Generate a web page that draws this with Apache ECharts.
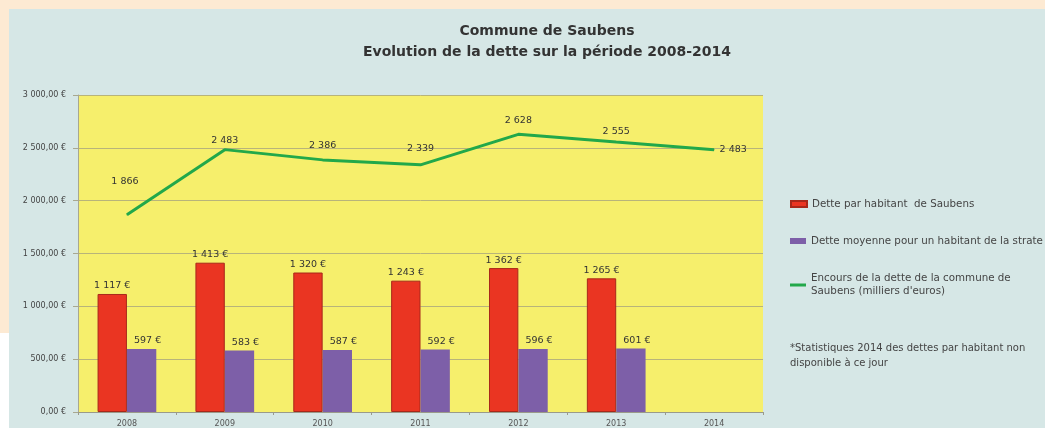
<!DOCTYPE html>
<html>
<head>
<meta charset="utf-8">
<style>
html,body{margin:0;padding:0;background:#ffffff;}
#c{width:1045px;height:428px;}
</style>
<script src="https://cdn.jsdelivr.net/npm/echarts@6/dist/echarts.min.js"></script>
</head>
<body>
<div id="c"></div>
<script>
var years = ['2008','2009','2010','2011','2012','2013','2014'];
var detteHabitant = [1117, 1413, 1320, 1243, 1362, 1265, null];
var detteStrate = [597, 583, 587, 592, 596, 601, null];
var encours = [1866, 2483, 2386, 2339, 2628, 2555, 2483];
var yTicks = [0, 500, 1000, 1500, 2000, 2500, 3000];

var nameRed = 'Dette par habitant  de Saubens';
var namePurple = 'Dette moyenne pour un habitant de la strate';
var nameGreen = "Encours de la dette de la commune de\nSaubens (milliers d'euros)";

function thousands(v){
  return String(Math.round(v)).replace(/\B(?=(\d{3})+(?!\d))/g, '\u00a0');
}

var FONT = '"DejaVu Sans", Verdana, sans-serif';
var lineOffsets = [[-2,-24],[0,0],[0,-5],[0,-7],[0,-4],[0,-1],[0,0]];

var chart = echarts.init(document.getElementById('c'));
chart.setOption({
  backgroundColor: '#D6E7E6',
  animation: false,
  textStyle: {fontFamily: FONT},
  title: {
    text: 'Commune de Saubens\nEvolution de la dette sur la période 2008-2014',
    left: 542, top: 16, textAlign: 'center',
    textStyle: {fontSize: 14, fontWeight: 'bold', color: '#333', lineHeight: 21, fontFamily: FONT}
  },
  grid: {left: 78, right: 282, top: 95, bottom: 15, show: true, backgroundColor: '#F6EF6C', borderWidth: 0},
  xAxis: {
    type: 'category', data: years,
    axisLine: {lineStyle: {color: '#9A9A8A'}},
    axisTick: {show: true, length: 3, lineStyle: {color: '#9A9A8A'}},
    axisLabel: {fontSize: 8, color: '#555', margin: 8, fontFamily: FONT}
  },
  yAxis: {
    type: 'value', min: yTicks[0], max: yTicks[yTicks.length-1], interval: 500,
    axisLine: {show: true, lineStyle: {color: '#A8A890'}},
    axisTick: {show: true, length: 5, lineStyle: {color: '#A8A890'}},
    splitLine: {lineStyle: {color: '#B8B47A', width: 1}},
    axisLabel: {fontSize: 8, color: '#444', margin: 12, fontFamily: FONT,
      formatter: function(v){ return thousands(v) + ',00\u00a0€'; }}
  },
  legend: [
    {orient: 'vertical', left: 790, top: 199, padding: 0, data: [{name: nameRed, icon: 'rect'}],
     itemWidth: 16, itemHeight: 6, itemGap: 5, textStyle: {fontSize: 10.3, color: '#444', fontFamily: FONT}},
    {orient: 'vertical', left: 790, top: 236, padding: 0, data: [{name: namePurple, icon: 'rect'}],
     itemWidth: 16, itemHeight: 6, itemGap: 5, textStyle: {fontSize: 10.3, color: '#444', fontFamily: FONT}},
    {orient: 'vertical', left: 790, top: 272, padding: 0, data: [{name: nameGreen, icon: 'rect'}],
     itemWidth: 16, itemHeight: 3, itemGap: 5, textStyle: {fontSize: 10.3, color: '#444', lineHeight: 13, fontFamily: FONT}}
  ],
  graphic: [
    {type: 'rect', shape: {x: 0, y: 0, width: 1045, height: 9}, style: {fill: '#FDEAD3'}, silent: true},
    {type: 'rect', shape: {x: 0, y: 9, width: 9, height: 324}, style: {fill: '#FDEAD3'}, silent: true},
    {type: 'rect', shape: {x: 0, y: 333, width: 9, height: 95}, style: {fill: '#FFFFFF'}, silent: true},
    {type: 'text', left: 790, top: 341, silent: true,
     style: {text: '*Statistiques 2014 des dettes par habitant non\ndisponible à ce jour', fontSize: 10, fill: '#444', lineHeight: 15, fontFamily: FONT}}
  ],
  series: [
    {name: nameRed, type: 'bar', data: detteHabitant, barGap: '0%', barCategoryGap: '40%',
     itemStyle: {color: '#EA3522', borderColor: '#A8281A', borderWidth: 1},
     label: {show: true, position: 'top', distance: 3, fontSize: 9.5, color: '#333', fontFamily: FONT,
       formatter: function(p){ return thousands(p.value) + '\u00a0€'; }}},
    {name: namePurple, type: 'bar', data: detteStrate,
     itemStyle: {color: '#7D5FA8'},
     label: {show: true, position: 'top', distance: 3, offset: [6, 0], fontSize: 9.5, color: '#333', fontFamily: FONT,
       formatter: function(p){ return thousands(p.value) + '\u00a0€'; }}},
    {name: nameGreen, type: 'line', data: encours.map(function(v, i){
        var lab = {offset: lineOffsets[i]};
        if (i === encours.length - 1) { lab.position = 'right'; lab.distance = 5; }
        return {value: v, label: lab};
      }),
     symbol: 'circle', symbolSize: 1, showSymbol: true,
     lineStyle: {color: '#22A84A', width: 3}, itemStyle: {color: '#22A84A'},
     label: {show: true, position: 'top', distance: 4, fontSize: 9.5, color: '#333', fontFamily: FONT,
       formatter: function(p){ return thousands(p.value); }}}
  ]
});
</script>
</body>
</html>
